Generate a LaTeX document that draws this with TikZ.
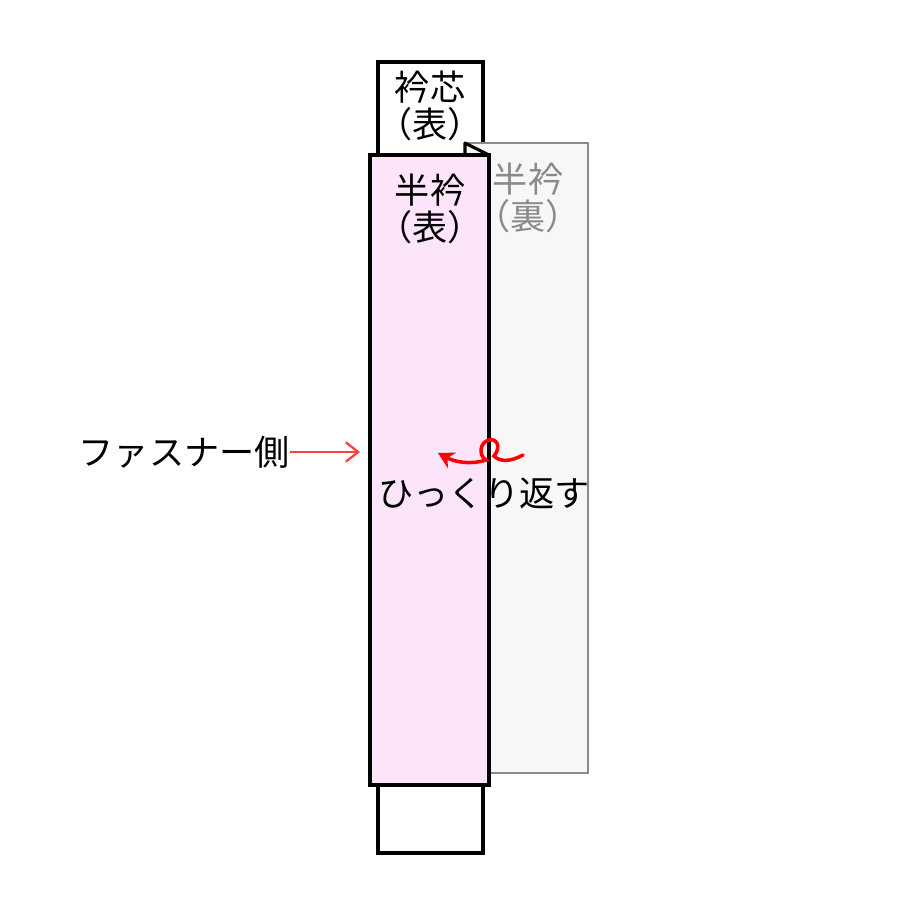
\documentclass[tikz,border=0pt]{standalone}
\usepackage{fontspec}
\setmainfont{Noto Sans CJK JP}
\usetikzlibrary{positioning,arrows.meta}
\definecolor{eripink}{HTML}{FCE4FA}
\definecolor{uragray}{HTML}{F7F7F7}
\definecolor{uraline}{HTML}{8A8A8A}

\begin{document}
\begin{tikzpicture}[x=0.02cm,y=-0.02cm,
        panel/.style={rectangle,draw,line width=2pt,inner sep=0pt,outer sep=0pt},
        label/.style={align=center,inner sep=0pt,font=\fontsize{20}{21}\selectfont}]
    \useasboundingbox (0,0) rectangle (900,900);
    \node[panel,fill=white,minimum width=2.1cm,minimum height=15.82cm] (shin) at (430.5,457.5) {};
    \node[panel,draw=uraline,line width=1.5pt,fill=uragray,minimum width=2.46cm,minimum height=12.6cm] (ura) at (526.5,458) {};
    \node[panel,fill=eripink,minimum width=2.38cm,minimum height=12.6cm] (omote) at (429.5,470) {};
    \draw[line width=1.8pt,line join=round] (ura.north west |- omote.north) -- (ura.north west) -- (omote.north east);
    % labels
    \node[label] (shin_t) at (430,106) {衿芯\\（表）};
    \node[label] (omote_t) at (430,209) {半衿\\（表）};
    \node[label,text=uraline] (ura_t) at (528,198) {半衿\\（裏）};
    \node[label,anchor=east] (zip) at (290,452) {ファスナー側};
    \node[label] (flip) at (484,493) {ひっくり返す};
    \draw[-{Straight Barb[length=7pt,width=11pt,line width=1.3pt]},red!75,line width=0.6pt,shorten >=0.2cm] (zip) -- (omote.west |- zip);
    \coordinate (curl_a) at (523,455);
    \coordinate (curl_b) at (438,453);
    \draw[-{Stealth[length=9pt,width=10pt]},red,line width=2pt,line cap=round] (curl_a) .. controls (510,462) and (500,462) .. (494,456)
        .. controls (502,446) and (496,438) .. (489,440)
        .. controls (480,442) and (478,455) .. (486,460)
        .. controls (470,465) and (455,462) .. (curl_b);
\end{tikzpicture}
\end{document}
